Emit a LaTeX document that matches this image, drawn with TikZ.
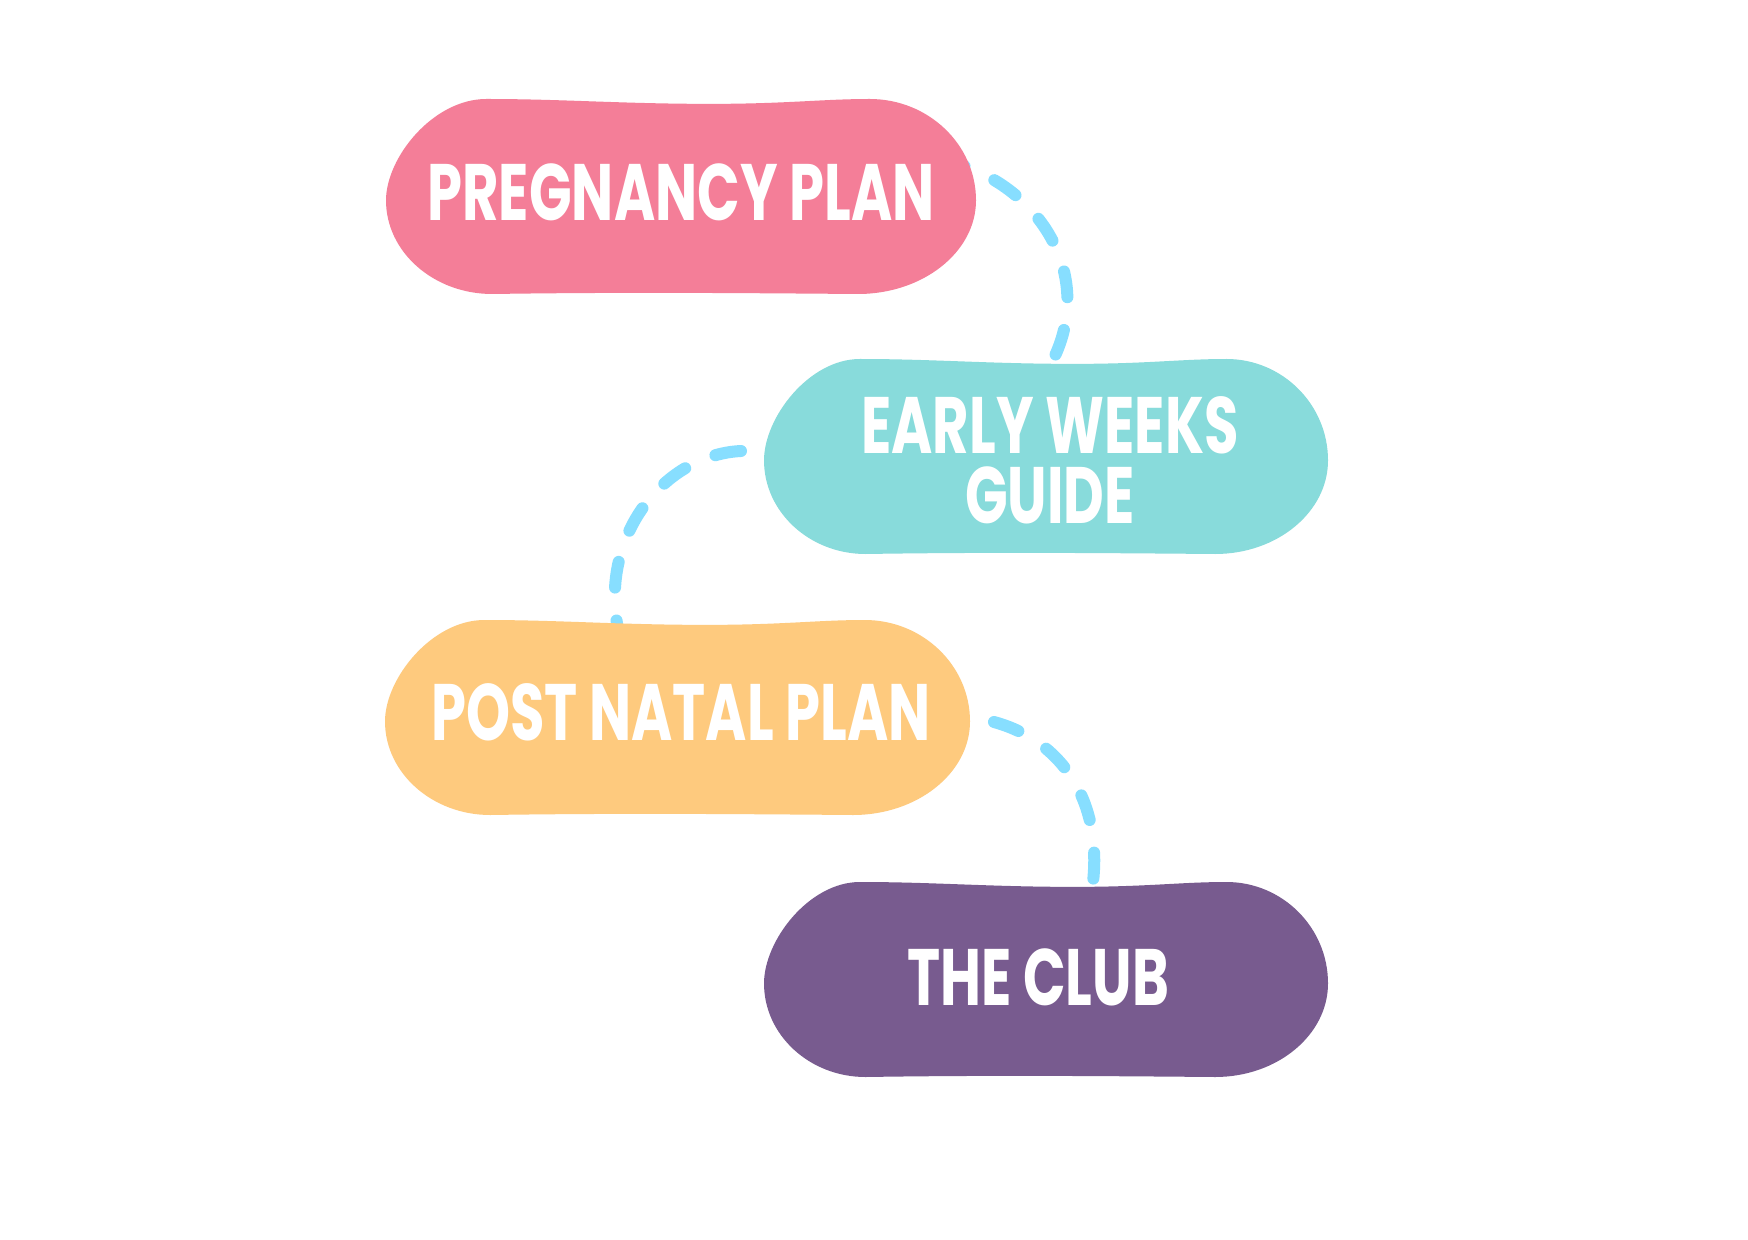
\documentclass[tikz,border=0pt]{standalone}
\usepackage{fontspec}
\setmainfont{Poppins}[FakeStretch=0.7]
\definecolor{pinkb}{HTML}{F47E98}
\definecolor{tealb}{HTML}{88DBDB}
\definecolor{orangeb}{HTML}{FECA7E}
\definecolor{purpleb}{HTML}{785B8F}
\definecolor{dashc}{HTML}{87DEFF}
\newcommand\drawblob[5]{%
  \begin{scope}[shift={(#1,#2)},xscale=#3,yscale=#4]
    \fill[#5] (0.17,0) .. controls (0.3,0) and (0.4,0.025) .. (0.55,0.025)
      .. controls (0.68,0.025) and (0.74,0.0) .. (0.82,0.0)
      .. controls (0.919,0.0) and (1,0.233) .. (1,0.52)
      .. controls (1,0.785) and (0.91,1.0) .. (0.8,1.0)
      .. controls (0.6,0.995) and (0.4,0.99) .. (0.18,1.0)
      .. controls (0.081,1.0) and (0,0.785) .. (0,0.52)
      .. controls (0,0.3) and (0.08,0) .. (0.17,0) -- cycle;
  \end{scope}}
\begin{document}
\begin{tikzpicture}[x=0.5pt,y=-0.5pt,
  conn/.style={draw=dashc, line width=6pt, line cap=round, dash pattern=on 13pt off 16.5pt},
  lbl/.style={text=white, font=\fontsize{40}{35}\selectfont\bfseries, align=center, inner sep=0pt}]
\useasboundingbox (0,0) rectangle (1748,1240);
\fill[white] (0,0) rectangle (1748,1240);
% connector end points
\coordinate (c1a) at (955,163);
\coordinate (c1b) at (1053,360);
\coordinate (c2a) at (741,451);
\coordinate (c2b) at (622,645);
\coordinate (c3a) at (994,722);
\coordinate (c3b) at (1092,890);
\draw[conn, dash phase=8pt] (c1a) .. controls (1040,188) and (1095,275) .. (c1b);
\draw[conn] (c2a) .. controls (660,455) and (592,545) .. (c2b);
\draw[conn] (c3a) .. controls (1060,740) and (1105,800) .. (c3b);
% blobs
\drawblob{386}{99}{590}{195}{pinkb}
\drawblob{764}{359}{564}{195}{tealb}
\drawblob{385}{620}{585}{195}{orangeb}
\drawblob{764}{882}{564}{195}{purpleb}
% labels
\node[lbl] (pregnancy) at (681,192) {PREGNANCY PLAN};
\node[lbl] (early) at (1050,460) {EARLY WEEKS\\GUIDE};
\node[lbl] (postnatal) at (681,712) {POST NATAL PLAN};
\node[lbl] (club) at (1038,977) {THE CLUB};
\end{tikzpicture}
\end{document}
